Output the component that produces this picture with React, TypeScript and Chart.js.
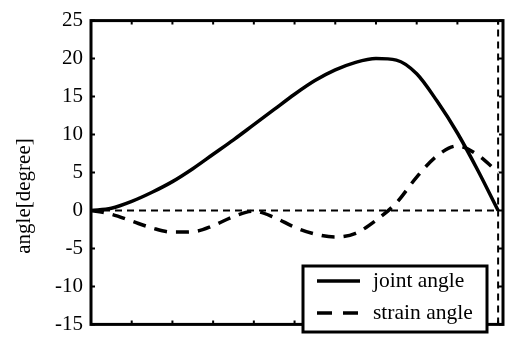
import React, { useEffect, useRef } from "react";
import { Chart, registerables } from "chart.js";

Chart.register(...registerables);

const timeSteps = [0, 0.5, 1, 1.5, 2, 2.5, 3, 3.5, 4, 4.5, 5, 5.5, 6, 6.5, 7, 7.5, 8, 8.5, 9, 9.5, 10];
const jointAngle = [0, 0.3, 1.2, 2.4, 3.8, 5.5, 7.4, 9.3, 11.3, 13.3, 15.3, 17.1, 18.5, 19.5, 20.0, 19.8, 18.0, 14.4, 10.2, 5.3, 0];
const strainAngle = [0, -0.5, -1.4, -2.3, -2.85, -2.8, -2.0, -0.8, -0.1, -0.9, -2.2, -3.1, -3.5, -3.0, -1.3, 1.0, 4.4, 7.2, 8.5, 7.3, 5.0];
const seriesLabels = ["joint angle", "strain angle"];
const yTicks = [-15, -10, -5, 0, 5, 10, 15, 20, 25];
const xTicks = [1, 2, 3, 4, 5, 6, 7, 8, 9, 10];
const yTitle = "angle[degree]";
const endTime = 10;

const FONT = "'Liberation Serif', 'Times New Roman', serif";

const framePlugin = {
  id: "frame",
  afterDatasetsDraw(chart: any) {
    const { ctx, chartArea, scales } = chart;
    const { left, right, top, bottom } = chartArea;
    const xs = scales.x;
    const ys = scales.y;
    ctx.save();
    ctx.strokeStyle = "#000";
    // inner ticks
    ctx.lineWidth = 2;
    ctx.beginPath();
    yTicks.forEach((v) => {
      const py = ys.getPixelForValue(v);
      ctx.moveTo(left, py);
      ctx.lineTo(left + 4, py);
      ctx.moveTo(right, py);
      ctx.lineTo(right - 4, py);
    });
    xTicks.forEach((v) => {
      const px = xs.getPixelForValue(v);
      ctx.moveTo(px, bottom);
      ctx.lineTo(px, bottom - 4);
      ctx.moveTo(px, top);
      ctx.lineTo(px, top + 4);
    });
    ctx.stroke();
    // frame
    ctx.lineWidth = 3;
    ctx.strokeRect(left, top, right - left, bottom - top);

    // legend
    const lx0 = 303, lx1 = 487, ly0 = 266, ly1 = 332;
    ctx.fillStyle = "#fff";
    ctx.fillRect(lx0, ly0, lx1 - lx0, ly1 - ly0);
    ctx.lineWidth = 3;
    ctx.strokeRect(lx0, ly0, lx1 - lx0, ly1 - ly0);
    const rows = [281, 313];
    chart.data.datasets.slice(0, 2).forEach((ds: any, i: number) => {
      const y = rows[i];
      ctx.lineWidth = 3.5;
      ctx.setLineDash(ds.borderDash && ds.borderDash.length ? [15, 11] : []);
      ctx.beginPath();
      ctx.moveTo(317, y);
      ctx.lineTo(360, y);
      ctx.stroke();
      ctx.setLineDash([]);
      ctx.fillStyle = "#000";
      ctx.font = `21.5px ${FONT}`;
      ctx.textBaseline = "middle";
      ctx.textAlign = "left";
      ctx.fillText(ds.label, 373, y);
    });

    // y title
    ctx.save();
    ctx.translate(24, 196);
    ctx.rotate(-Math.PI / 2);
    ctx.font = `21px ${FONT}`;
    ctx.fillStyle = "#000";
    ctx.textAlign = "center";
    ctx.textBaseline = "middle";
    ctx.fillText(yTitle, 0, 0);
    ctx.restore();
    ctx.restore();
  },
};

export default function App() {
  const ref = useRef<HTMLCanvasElement>(null);
  useEffect(() => {
    if (!ref.current) return;
    const joint = timeSteps.map((t, i) => ({ x: t, y: jointAngle[i] }));
    const strain = timeSteps.map((t, i) => ({ x: t, y: strainAngle[i] }));
    const chart = new Chart(ref.current, {
      type: "line",
      data: {
        datasets: [
          {
            label: seriesLabels[0],
            data: joint,
            borderColor: "#000",
            borderWidth: 3.5,
            pointRadius: 0,
            cubicInterpolationMode: "monotone",
            borderDash: [],
          },
          {
            label: seriesLabels[1],
            data: strain,
            borderColor: "#000",
            borderWidth: 3.5,
            pointRadius: 0,
            cubicInterpolationMode: "monotone",
            borderDash: [13, 9],
          },
          {
            label: "zero",
            data: [{ x: 0, y: 0 }, { x: endTime, y: 0 }],
            borderColor: "#000",
            borderWidth: 2,
            pointRadius: 0,
            borderDash: [7, 5],
          },
          {
            label: "end",
            data: [{ x: endTime, y: yTicks[0] }, { x: endTime, y: yTicks[yTicks.length - 1] }],
            borderColor: "#000",
            borderWidth: 2,
            pointRadius: 0,
            borderDash: [7, 5],
          },
        ],
      },
      options: {
        animation: false,
        responsive: false,
        layout: { padding: { top: 20, right: 7, bottom: 5, left: 0 } },
        plugins: { legend: { display: false }, tooltip: { enabled: false } },
        scales: {
          x: {
            type: "linear",
            min: 0,
            max: 10.12,
            display: false,
          },
          y: {
            type: "linear",
            min: -15,
            max: 25,
            grid: { display: false, drawTicks: false },
            border: { display: false },
            ticks: {
              stepSize: 5,
              padding: 8,
              color: "#000",
              font: { family: FONT, size: 21 },
            },
            afterFit(scale: any) {
              scale.width = 91;
            },
          },
        },
      },
      plugins: [framePlugin],
    });
    return () => chart.destroy();
  }, []);
  return (
    <div style={{ position: "fixed", left: 0, top: 0, width: 510, height: 345, background: "#fff" }}>
      <canvas ref={ref} width={510} height={345} />
    </div>
  );
}
